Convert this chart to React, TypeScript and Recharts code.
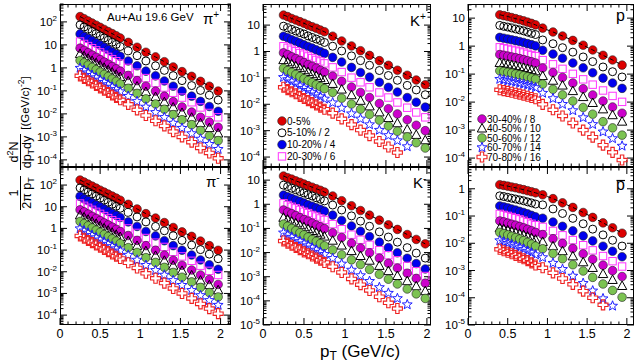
import React from 'react';
import { ScatterChart, Scatter, XAxis, YAxis, ReferenceLine } from 'recharts';

const FONT = '"Liberation Sans", Arial, Helvetica, sans-serif';

// pT bin centres (GeV/c): TPC points first, then TOF points
const PI_PT = [0.25, 0.3, 0.35, 0.4, 0.45, 0.5, 0.55, 0.6, 0.65, 0.7, 0.75, 0.85, 0.96, 1.07, 1.19, 1.3, 1.41, 1.52, 1.64, 1.75, 1.86, 1.97];
const K_PT = [0.25, 0.3, 0.35, 0.4, 0.45, 0.5, 0.55, 0.6, 0.65, 0.7, 0.75, 0.85, 0.96, 1.08, 1.19, 1.3, 1.42, 1.53, 1.64, 1.76, 1.87, 1.98];
const P_PT = [0.4, 0.45, 0.5, 0.55, 0.6, 0.65, 0.7, 0.75, 0.8, 0.85, 0.94, 1.07, 1.19, 1.32, 1.45, 1.57, 1.7, 1.82, 1.94];

const X_LABELS = [0, 0.5, 1, 1.5, 2];

const CENTRALITY = ['0-5%', '5-10% / 2', '10-20% / 4', '20-30% / 6', '30-40% / 8', '40-50% / 10', '50-60% / 12', '60-70% / 14', '70-80% / 16'];

// pi+ (the pi- panel reads the same within the picture's resolution)
const PIP_00_05 = [170, 138, 110, 89, 72, 58, 47, 38, 31, 25, 20, 12.9, 7.9, 4.8, 3.0, 1.86, 1.1, 0.69, 0.43, 0.26, 0.16, 0.098];
const PIP_05_10 = [74, 60, 48, 39, 31, 25, 20, 16, 13, 10.5, 8.5, 5.5, 3.4, 2.0, 1.23, 0.78, 0.46, 0.28, 0.17, 0.105, 0.065, 0.04];
const PIP_10_20 = [30, 23, 19, 15, 12, 9.8, 7.8, 6.2, 4.9, 4.0, 3.2, 2.0, 1.23, 0.72, 0.45, 0.27, 0.16, 0.098, 0.059, 0.035, 0.021, 0.013];
const PIP_20_30 = [14, 11, 8.9, 7.2, 5.8, 4.7, 3.7, 3.0, 2.4, 1.95, 1.55, 1.0, 0.62, 0.36, 0.22, 0.14, 0.083, 0.051, 0.032, 0.019, 0.011, 0.0071];
const PIP_30_40 = [7.2, 5.8, 4.6, 3.6, 2.9, 2.3, 1.8, 1.45, 1.15, 0.91, 0.72, 0.47, 0.28, 0.16, 0.098, 0.059, 0.034, 0.02, 0.012, 0.0071, 0.0044, 0.0026];
const PIP_40_50 = [4.0, 3.2, 2.5, 2.0, 1.6, 1.26, 1.0, 0.79, 0.63, 0.5, 0.4, 0.26, 0.155, 0.089, 0.054, 0.032, 0.019, 0.011, 0.0068, 0.0039, 0.0024, 0.0014];
const PIP_50_60 = [2.1, 1.66, 1.32, 1.05, 0.83, 0.66, 0.52, 0.42, 0.33, 0.26, 0.2, 0.13, 0.078, 0.045, 0.027, 0.016, 0.0093, 0.0056, 0.0034, 0.0019, 0.0011, 0.00069];
const PIP_60_70 = [0.98, 0.78, 0.62, 0.48, 0.38, 0.3, 0.24, 0.19, 0.148, 0.117, 0.093, 0.059, 0.035, 0.02, 0.0117, 0.0071, 0.004, 0.0024, 0.0014, 0.00081, 0.00048, 0.00029];
const PIP_70_80 = [0.45, 0.35, 0.275, 0.22, 0.174, 0.135, 0.107, 0.085, 0.066, 0.052, 0.041, 0.026, 0.015, 0.0085, 0.005, 0.003, 0.0017, 0.001, 0.00059, 0.00033, 0.0002, 0.000117];

// K+
const KP_00_05 = [24, 21, 17.8, 15.5, 13.5, 11.7, 10, 8.7, 7.6, 6.5, 5.6, 3.8, 2.5, 1.62, 1.07, 0.71, 0.45, 0.3, 0.195, 0.126, 0.083, 0.055];
const KP_05_10 = [9.1, 7.9, 6.9, 6.0, 5.2, 4.6, 3.9, 3.4, 2.95, 2.6, 2.2, 1.58, 1.05, 0.68, 0.45, 0.3, 0.19, 0.123, 0.081, 0.052, 0.035, 0.023];
const KP_10_20 = [3.8, 3.3, 2.8, 2.45, 2.1, 1.8, 1.55, 1.35, 1.15, 1.0, 0.85, 0.6, 0.4, 0.25, 0.16, 0.107, 0.068, 0.044, 0.029, 0.018, 0.012, 0.0078];
const KP_20_30 = [1.58, 1.38, 1.17, 1.02, 0.87, 0.76, 0.65, 0.56, 0.48, 0.42, 0.355, 0.25, 0.166, 0.102, 0.068, 0.044, 0.028, 0.018, 0.0117, 0.0074, 0.0049, 0.0032];
const KP_30_40 = [0.89, 0.76, 0.63, 0.54, 0.46, 0.38, 0.32, 0.275, 0.234, 0.195, 0.166, 0.117, 0.074, 0.045, 0.028, 0.018, 0.0107, 0.0068, 0.0043, 0.0026, 0.0016, 0.001];
const KP_40_50 = [0.47, 0.39, 0.33, 0.275, 0.234, 0.195, 0.166, 0.138, 0.117, 0.098, 0.083, 0.059, 0.036, 0.022, 0.0135, 0.0083, 0.0049, 0.003, 0.0019, 0.0011, 0.00069, 0.00043];
const KP_50_60 = [0.23, 0.19, 0.162, 0.135, 0.112, 0.093, 0.079, 0.066, 0.055, 0.047, 0.039, 0.028, 0.017, 0.0102, 0.0065, 0.0041, 0.0025, 0.0015, 0.00095, 0.00058, 0.00035, 0.00022];
const KP_60_70 = [0.105, 0.087, 0.072, 0.06, 0.05, 0.041, 0.034, 0.028, 0.023, 0.0195, 0.016, 0.0115, 0.0072, 0.0044, 0.0028, 0.0017, 0.00105, 0.00066, 0.00042, 0.00025, null, null];
const KP_70_80 = [0.044, 0.036, 0.03, 0.025, 0.02, 0.0166, 0.0138, 0.0115, 0.0095, 0.0078, 0.0065, 0.0046, 0.0028, 0.0017, 0.00105, 0.00065, 0.00039, 0.00024, 0.000148, null, null, null];

// K-
const KM_00_05 = [14.8, 12.6, 11, 9.3, 8.1, 6.9, 5.9, 5.1, 4.4, 3.8, 3.2, 2.2, 1.41, 0.87, 0.55, 0.355, 0.22, 0.141, 0.091, 0.056, 0.035, 0.023];
const KM_05_10 = [6.2, 5.4, 4.6, 4.0, 3.4, 2.95, 2.5, 2.2, 1.86, 1.62, 1.38, 0.93, 0.58, 0.33, 0.2, 0.123, 0.072, 0.044, 0.027, 0.016, 0.0095, 0.0059];
const KM_10_20 = [2.4, 2.05, 1.78, 1.51, 1.32, 1.12, 0.95, 0.83, 0.71, 0.62, 0.52, 0.355, 0.214, 0.126, 0.076, 0.046, 0.027, 0.016, 0.0098, 0.0058, 0.0035, 0.0021];
const KM_20_30 = [1.1, 0.93, 0.79, 0.68, 0.58, 0.49, 0.43, 0.36, 0.31, 0.26, 0.224, 0.151, 0.093, 0.055, 0.034, 0.021, 0.0126, 0.0078, 0.0048, 0.0028, 0.0017, 0.00107];
const KM_30_40 = [0.58, 0.48, 0.41, 0.34, 0.28, 0.234, 0.2, 0.166, 0.138, 0.117, 0.098, 0.066, 0.042, 0.0245, 0.0155, 0.0098, 0.0059, 0.0036, 0.0023, 0.0014, 0.00085, 0.00054];
const KM_40_50 = [0.275, 0.23, 0.19, 0.162, 0.135, 0.112, 0.093, 0.078, 0.066, 0.055, 0.046, 0.031, 0.0195, 0.0115, 0.0072, 0.0046, 0.0028, 0.0017, 0.00107, 0.00065, 0.0004, 0.00025];
const KM_50_60 = [0.151, 0.123, 0.1, 0.081, 0.066, 0.054, 0.044, 0.035, 0.029, 0.0234, 0.019, 0.0129, 0.0081, 0.005, 0.0032, 0.002, 0.00126, 0.00079, 0.0005, 0.00031, 0.000195, 0.000126];
const KM_60_70 = [0.066, 0.054, 0.044, 0.035, 0.029, 0.0234, 0.0195, 0.0158, 0.0129, 0.0105, 0.0085, 0.0058, 0.0034, 0.0019, 0.00112, 0.00065, 0.00036, 0.00021, 0.000126, 0.00007, null, null];
const KM_70_80 = [0.03, 0.0245, 0.02, 0.0162, 0.0132, 0.0107, 0.0089, 0.0072, 0.0059, 0.0048, 0.0039, 0.0026, 0.0015, 0.00081, 0.00047, 0.00027, 0.000148, 0.000083, 0.000048, null, null, null];

// p
const PP_00_05 = [13.2, 12.3, 11.4, 10.5, 9.6, 8.8, 8.0, 7.2, 6.5, 5.75, 4.4, 3.2, 2.3, 1.6, 1.08, 0.73, 0.47, 0.32, 0.21];
const PP_05_10 = [5.5, 5.1, 4.8, 4.45, 4.1, 3.8, 3.5, 3.15, 2.85, 2.6, 1.66, 1.22, 0.88, 0.61, 0.41, 0.28, 0.18, 0.122, 0.079];
const PP_10_20 = [2.05, 1.92, 1.8, 1.68, 1.57, 1.46, 1.35, 1.23, 1.13, 1.02, 0.71, 0.52, 0.37, 0.25, 0.168, 0.112, 0.072, 0.048, 0.031];
const PP_20_30 = [0.91, 0.85, 0.8, 0.74, 0.69, 0.64, 0.59, 0.53, 0.48, 0.44, 0.316, 0.224, 0.154, 0.102, 0.065, 0.042, 0.026, 0.0166, 0.0102];
const PP_30_40 = [0.5, 0.47, 0.44, 0.41, 0.385, 0.357, 0.33, 0.3, 0.277, 0.25, 0.166, 0.114, 0.076, 0.048, 0.03, 0.018, 0.0109, 0.0067, 0.004];
const PP_40_50 = [0.25, 0.236, 0.222, 0.207, 0.193, 0.179, 0.166, 0.152, 0.139, 0.126, 0.085, 0.058, 0.039, 0.0247, 0.0151, 0.0093, 0.0055, 0.0034, 0.002];
const PP_50_60 = [0.132, 0.124, 0.116, 0.109, 0.101, 0.094, 0.087, 0.08, 0.073, 0.066, 0.044, 0.0287, 0.0181, 0.0109, 0.0064, 0.0037, 0.002, 0.0012, 0.00066];
const PP_60_70 = [0.066, 0.062, 0.058, 0.054, 0.051, 0.047, 0.044, 0.04, 0.0365, 0.033, 0.021, 0.0135, 0.0084, 0.005, 0.0028, 0.0016, 0.00087, 0.0005, 0.00027];
const PP_70_80 = [0.0275, 0.0258, 0.0241, 0.0224, 0.0208, 0.0192, 0.0177, 0.0161, 0.0146, 0.0132, 0.0083, 0.0053, 0.0032, 0.0018, 0.001, 0.00056, 0.00029, 0.00016, 0.000085];

// p-bar
const PB_00_05 = [1.41, 1.33, 1.25, 1.16, 1.09, 1.0, 0.93, 0.85, 0.78, 0.71, 0.6, 0.435, 0.305, 0.207, 0.135, 0.089, 0.056, 0.037, 0.0234];
const PB_05_10 = [0.55, 0.52, 0.485, 0.45, 0.42, 0.39, 0.363, 0.33, 0.303, 0.275, 0.257, 0.182, 0.124, 0.082, 0.052, 0.033, 0.0203, 0.0129, 0.0079];
const PB_10_20 = [0.234, 0.216, 0.199, 0.181, 0.165, 0.149, 0.135, 0.12, 0.106, 0.093, 0.083, 0.06, 0.042, 0.0285, 0.0187, 0.0122, 0.0078, 0.0051, 0.0032];
const PB_20_30 = [0.12, 0.11, 0.101, 0.092, 0.083, 0.075, 0.067, 0.059, 0.052, 0.046, 0.04, 0.0284, 0.0196, 0.0131, 0.0085, 0.0055, 0.0034, 0.0022, 0.0014];
const PB_30_40 = [0.066, 0.061, 0.055, 0.05, 0.046, 0.041, 0.037, 0.0326, 0.0288, 0.0251, 0.0209, 0.0147, 0.0099, 0.0065, 0.0041, 0.0026, 0.00157, 0.00099, 0.0006];
const PB_40_50 = [0.0355, 0.0325, 0.0298, 0.027, 0.0245, 0.0221, 0.0199, 0.0175, 0.0155, 0.0135, 0.0112, 0.0077, 0.0051, 0.0033, 0.002, 0.00124, 0.00074, 0.00045, 0.00027];
const PB_50_60 = [0.0251, 0.0226, 0.0204, 0.0182, 0.0162, 0.0143, 0.0126, 0.0108, 0.0093, 0.0079, 0.0063, 0.0042, 0.0027, 0.00163, 0.00096, 0.00056, 0.00032, 0.000186, 0.000105];
const PB_60_70 = [0.0126, 0.0113, 0.0101, 0.009, 0.008, 0.007, 0.0061, 0.0052, 0.0045, 0.0038, 0.003, 0.00187, 0.00111, 0.00063, 0.00034, 0.00018, 0.000093, 0.00005, null];
const PB_70_80 = [0.006, 0.0053, 0.0047, 0.0041, 0.0036, 0.0031, 0.0027, 0.0023, 0.0019, 0.0016, 0.00126, 0.00082, 0.00051, 0.00031, 0.000175, 0.0001, 0.000055, null, null];

type Kind = 'full' | 'circle' | 'square' | 'triangle' | 'star' | 'cross';

const MARKERS: { kind: Kind; color: string }[] = [
    { kind: 'full', color: '#dd0000' },
    { kind: 'circle', color: '#000000' },
    { kind: 'full', color: '#0000ee' },
    { kind: 'square', color: '#ff33ff' },
    { kind: 'full', color: '#cc00cc' },
    { kind: 'triangle', color: '#000000' },
    { kind: 'full', color: '#7cc352' },
    { kind: 'star', color: '#2020ff' },
    { kind: 'cross', color: '#ee2222' }
];

const starPoints = (cx: number, cy: number, ro: number, ri: number) => {
    const pts: string[] = [];
    for (let i = 0; i < 10; i++) {
        const r = i % 2 === 0 ? ro : ri;
        const a = -Math.PI / 2 + (i * Math.PI) / 5;
        pts.push(`${cx + r * Math.cos(a)},${cy + r * Math.sin(a)}`);
    }
    return pts.join(' ');
};

const crossPoints = (cx: number, cy: number, r: number, a: number) =>
    [
        [-a, -r], [a, -r], [a, -a], [r, -a], [r, a], [a, a],
        [a, r], [-a, r], [-a, a], [-r, a], [-r, -a], [-a, -a]
    ].map(([dx, dy]) => `${cx + dx},${cy + dy}`).join(' ');

const Marker = ({ cx, cy, kind, color }: { cx: number; cy: number; kind: Kind; color: string }) => {
    switch (kind) {
        case 'full':
            return <circle cx={cx} cy={cy} r={4.3} fill={color} stroke="#222" strokeWidth={0.6} />;
        case 'circle':
            return <circle cx={cx} cy={cy} r={4} fill="none" stroke={color} strokeWidth={1} />;
        case 'square':
            return <rect x={cx - 3.7} y={cy - 3.7} width={7.4} height={7.4} fill="none" stroke={color} strokeWidth={1} />;
        case 'triangle':
            return <polygon points={`${cx},${cy - 5} ${cx + 4.7},${cy + 3.5} ${cx - 4.7},${cy + 3.5}`} fill="none" stroke={color} strokeWidth={1} />;
        case 'star':
            return <polygon points={starPoints(cx, cy, 5.2, 2.2)} fill="none" stroke={color} strokeWidth={1} />;
        default:
            return <polygon points={crossPoints(cx, cy, 5, 1.7)} fill="none" stroke={color} strokeWidth={1.1} />;
    }
};

const toPoints = (pt: number[], vals: (number | null)[]) =>
    pt.flatMap((x, i) => (vals[i] == null ? [] : [{ x, y: vals[i] as number }]));

const logLabel = (v: number) => {
    const e = Math.round(Math.log10(v));
    if (e === 0) return <tspan>1</tspan>;
    if (e === 1) return <tspan>10</tspan>;
    return (
        <>
            <tspan>10</tspan>
            <tspan dy={-5} fontSize={8}>{e}</tspan>
        </>
    );
};

// ROOT style ticks drawn inwards on both frame edges, placed by the axis scales
const YTickShape = (props: any) => {
    const { x1, x2, y1, value } = props;
    const left = Math.min(x1, x2);
    const right = Math.max(x1, x2);
    const lg = Math.log10(value);
    const major = Math.abs(lg - Math.round(lg)) < 1e-6;
    const len = major ? 7 : 3.5;
    return (
        <g>
            <line x1={left} x2={left + len} y1={y1} y2={y1} stroke="#000" strokeWidth={1} />
            <line x1={right - len} x2={right} y1={y1} y2={y1} stroke="#000" strokeWidth={1} />
            {major && (
                <text x={left - 3} y={y1 + 4} textAnchor="end" fontSize={11.5} fontFamily={FONT} fill="#000">
                    {logLabel(value)}
                </text>
            )}
        </g>
    );
};

const XTickShape = (props: any) => {
    const { x1, y1, y2, value, showLabel } = props;
    const top = Math.min(y1, y2);
    const bottom = Math.max(y1, y2);
    const major = Math.round(value * 10) % 5 === 0;
    const len = major ? 7 : 3.5;
    const label = X_LABELS.find((t) => Math.abs(t - value) < 1e-6);
    return (
        <g>
            <line x1={x1} x2={x1} y1={bottom} y2={bottom - len} stroke="#000" strokeWidth={1} />
            <line x1={x1} x2={x1} y1={top} y2={top + len} stroke="#000" strokeWidth={1} />
            {showLabel && label !== undefined && (
                <text x={x1} y={bottom + 13} textAnchor="middle" fontSize={12.5} fontFamily={FONT} fill="#000">
                    {label.toString()}
                </text>
            )}
        </g>
    );
};

interface PanelConfig {
    pt: number[];
    series: (number | null)[][];
    x0: number;
    x1: number;
    y0: number;
    y1: number;
    xMax: number;
    yMin: number;
    yMax: number;
    bottom: boolean;
}

const PANELS: PanelConfig[] = [
    { pt: PI_PT, series: [PIP_00_05, PIP_05_10, PIP_10_20, PIP_20_30, PIP_30_40, PIP_40_50, PIP_50_60, PIP_60_70, PIP_70_80], x0: 60, x1: 231, y0: 4, y1: 167, xMax: 2.13, yMin: 4.9e-5, yMax: 600, bottom: false },
    { pt: PI_PT, series: [PIP_00_05, PIP_05_10, PIP_10_20, PIP_20_30, PIP_30_40, PIP_40_50, PIP_50_60, PIP_60_70, PIP_70_80], x0: 60, x1: 231, y0: 167, y1: 325, xMax: 2.13, yMin: 3.5e-5, yMax: 680, bottom: true },
    { pt: K_PT, series: [KP_00_05, KP_05_10, KP_10_20, KP_20_30, KP_30_40, KP_40_50, KP_50_60, KP_60_70, KP_70_80], x0: 263, x1: 431, y0: 4, y1: 167, xMax: 2.05, yMin: 4.2e-5, yMax: 63, bottom: false },
    { pt: K_PT, series: [KM_00_05, KM_05_10, KM_10_20, KM_20_30, KM_30_40, KM_40_50, KM_50_60, KM_60_70, KM_70_80], x0: 263, x1: 431, y0: 167, y1: 325, xMax: 2.05, yMin: 1e-5, yMax: 35, bottom: true },
    { pt: P_PT, series: [PP_00_05, PP_05_10, PP_10_20, PP_20_30, PP_30_40, PP_40_50, PP_50_60, PP_60_70, PP_70_80], x0: 468, x1: 634, y0: 4, y1: 167, xMax: 2.09, yMin: 4.8e-5, yMax: 32, bottom: false },
    { pt: P_PT, series: [PB_00_05, PB_05_10, PB_10_20, PB_20_30, PB_30_40, PB_40_50, PB_50_60, PB_60_70, PB_70_80], x0: 468, x1: 634, y0: 167, y1: 325, xMax: 2.09, yMin: 1e-5, yMax: 6.3, bottom: true }
];

const logTicks = (lo: number, hi: number) => {
    const out: number[] = [];
    for (let e = Math.floor(Math.log10(lo)); e <= Math.ceil(Math.log10(hi)); e++) {
        for (let k = 1; k <= 9; k++) {
            const v = Number((k * Math.pow(10, e)).toPrecision(6));
            if (v >= lo && v <= hi) out.push(v);
        }
    }
    return out;
};

const linTicks = (hi: number) => {
    const out: number[] = [];
    for (let i = 0; i / 10 <= hi + 1e-9; i++) out.push(i / 10);
    return out;
};

const PAD = { l: 50, t: 6, r: 4, b: 22 };

const Panel = ({ cfg }: { cfg: PanelConfig }) => {
    const w = cfg.x1 - cfg.x0;
    const h = cfg.y1 - cfg.y0;
    const ref = toPoints(cfg.pt, cfg.series[0]);
    return (
        <div style={{ position: 'absolute', left: cfg.x0 - PAD.l, top: cfg.y0 - PAD.t }}>
            <ScatterChart
                width={w + PAD.l + PAD.r}
                height={h + PAD.t + PAD.b}
                margin={{ top: PAD.t, right: PAD.r, bottom: PAD.b, left: PAD.l }}
            >
                <XAxis dataKey="x" type="number" domain={[0, cfg.xMax]} allowDataOverflow hide />
                <YAxis dataKey="y" type="number" scale="log" domain={[cfg.yMin, cfg.yMax]} allowDataOverflow hide />
                {linTicks(cfg.xMax).map((v) => (
                    <ReferenceLine
                        key={`x${v}`}
                        x={v}
                        ifOverflow="visible"
                        shape={(p: any) => <XTickShape {...p} value={v} showLabel={cfg.bottom} />}
                    />
                ))}
                {logTicks(cfg.yMin, cfg.yMax).map((v) => (
                    <ReferenceLine
                        key={`y${v}`}
                        y={v}
                        ifOverflow="visible"
                        shape={(p: any) => <YTickShape {...p} value={v} />}
                    />
                ))}
                {cfg.series.map((vals, i) => (
                    <Scatter
                        key={i}
                        data={toPoints(cfg.pt, vals)}
                        isAnimationActive={false}
                        shape={(p: any) => <Marker cx={p.cx} cy={p.cy} kind={MARKERS[i].kind} color={MARKERS[i].color} />}
                    />
                ))}
                {/* dashed reference curve over the most central spectrum */}
                <Scatter
                    data={ref}
                    isAnimationActive={false}
                    line={{ stroke: '#000', strokeWidth: 1, strokeDasharray: '4 3' }}
                    shape={() => <g />}
                />
            </ScatterChart>
            <div
                style={{
                    position: 'absolute',
                    left: PAD.l,
                    top: PAD.t,
                    width: w,
                    height: h,
                    border: '1px solid #000',
                    boxSizing: 'border-box',
                    pointerEvents: 'none'
                }}
            />
        </div>
    );
};

const Legend = ({ x, y, step, from, to }: { x: number; y: number; step: number; from: number; to: number }) => (
    <g>
        {CENTRALITY.slice(from, to).map((name, j) => {
            const i = from + j;
            const cy = y + j * step;
            return (
                <g key={name}>
                    <Marker cx={x} cy={cy} kind={MARKERS[i].kind} color={MARKERS[i].color} />
                    <text x={x + 5} y={cy + 3.6} fontSize={10} fontFamily={FONT} fill="#000">{name}</text>
                </g>
            );
        })}
    </g>
);

const App = () => (
    <div style={{ position: 'absolute', left: 0, top: 0, width: 637, height: 363, background: '#fff', overflow: 'hidden' }}>
        {PANELS.map((cfg, i) => (
            <Panel key={i} cfg={cfg} />
        ))}
        <svg width={637} height={363} style={{ position: 'absolute', left: 0, top: 0, pointerEvents: 'none' }} fontFamily={FONT}>
            <text x={107} y={21} fontSize={11.5}>Au+Au 19.6 GeV</text>
            <text x={203} y={24} fontSize={15}>π<tspan dy={-6} fontSize={10}>+</tspan></text>
            <text x={206} y={187} fontSize={15}>π<tspan dy={-6} fontSize={10}>-</tspan></text>
            <text x={410} y={26} fontSize={15}>K<tspan dy={-6} fontSize={10}>+</tspan></text>
            <text x={413} y={188} fontSize={15}>K<tspan dy={-6} fontSize={10}>-</tspan></text>
            <text x={616} y={21} fontSize={16}>p</text>
            <text x={616} y={190} fontSize={16}>p</text>
            <line x1={616.5} x2={625} y1={180.5} y2={180.5} stroke="#000" strokeWidth={1.2} />

            <Legend x={282} y={121} step={11.8} from={0} to={4} />
            <Legend x={482} y={119} step={9.5} from={4} to={9} />

            <text x={320} y={356.5} fontSize={17}>
                p<tspan dy={3} fontSize={12}>T</tspan>
                <tspan dy={-3}> (GeV/c)</tspan>
            </text>

            {/* y title: 1/(2π pT) d²N/(dpT dy) [(GeV/c)^-2] */}
            <g fontSize={12.5} fill="#000">
                <text transform="translate(18,193) rotate(-90)" textAnchor="middle">1</text>
                <line x1={20.5} x2={20.5} y1={176} y2={210} stroke="#000" strokeWidth={1} />
                <text transform="translate(31,193) rotate(-90)" textAnchor="middle">
                    2π p<tspan dy={3} fontSize={9}>T</tspan>
                </text>
                <text transform="translate(18,152) rotate(-90)" textAnchor="middle">
                    d<tspan dy={-5} fontSize={9}>2</tspan><tspan dy={5}>N</tspan>
                </text>
                <line x1={20.5} x2={20.5} y1={134} y2={170} stroke="#000" strokeWidth={1} />
                <text transform="translate(31,152) rotate(-90)" textAnchor="middle">
                    dp<tspan dy={3} fontSize={9}>T</tspan><tspan dy={-3}>dy</tspan>
                </text>
                <text transform="translate(29,103) rotate(-90)" textAnchor="middle" fontSize={11.5}>
                    [(GeV/c)<tspan dy={-5} fontSize={8.5}>-2</tspan><tspan dy={5}>]</tspan>
                </text>
            </g>
        </svg>
    </div>
);

export default App;
